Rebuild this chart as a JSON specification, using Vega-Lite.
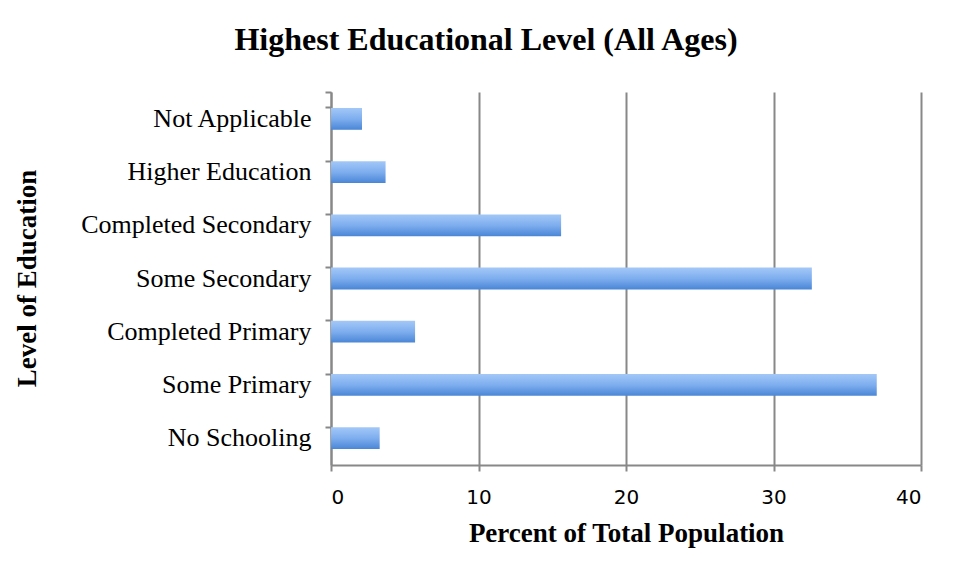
{
  "$schema": "https://vega.github.io/schema/vega-lite/v6.json",
  "width": 590,
  "height": 373,
  "autosize": {"type": "none"},
  "padding": {"left": 331, "top": 92, "right": 34, "bottom": 113},
  "background": "white",
  "title": {
    "text": "Highest Educational Level (All Ages)",
    "font": "Liberation Serif",
    "fontSize": 32,
    "fontWeight": "bold",
    "color": "black",
    "anchor": "middle",
    "frame": "group",
    "dx": -140,
    "offset": 22
  },
  "data": {
    "values": [
      {"level": "Not Applicable", "percent": 2.1},
      {"level": "Higher Education", "percent": 3.7},
      {"level": "Completed Secondary", "percent": 15.6},
      {"level": "Some Secondary", "percent": 32.6},
      {"level": "Completed Primary", "percent": 5.7},
      {"level": "Some Primary", "percent": 37.0},
      {"level": "No Schooling", "percent": 3.3}
    ]
  },
  "mark": {
    "type": "bar",
    "color": {
      "gradient": "linear",
      "x1": 0, "y1": 0, "x2": 0, "y2": 1,
      "stops": [
        {"offset": 0, "color": "#a3c8f7"},
        {"offset": 0.5, "color": "#7eaeee"},
        {"offset": 1, "color": "#4a86d6"}
      ]
    }
  },
  "encoding": {
    "y": {
      "field": "level",
      "type": "nominal",
      "sort": null,
      "scale": {"paddingInner": 0.59, "paddingOuter": 0.3},
      "axis": {
        "title": "Level of Education",
        "titleFont": "Liberation Serif",
        "titleFontSize": 27,
        "titleFontWeight": "bold",
        "titleColor": "black",
        "titleX": -304,
        "titleY": 186,
        "titleAngle": -90,
        "titleAlign": "center",
        "titleBaseline": "middle",
        "labelFont": "Liberation Serif",
        "labelFontSize": 26,
        "labelColor": "black",
        "labelPadding": 14,
        "labelLimit": 400,
        "tickSize": 6,
        "tickColor": "#888888",
        "tickWidth": 2,
        "bandPosition": 0,
        "tickExtra": true,
        "domainColor": "#888888",
        "domainWidth": 2,
        "grid": false
      }
    },
    "x": {
      "field": "percent",
      "type": "quantitative",
      "scale": {"domain": [0, 40], "nice": false},
      "axis": {
        "values": [0, 10, 20, 30, 40],
        "title": "Percent of Total Population",
        "titleFont": "Liberation Serif",
        "titleFontSize": 27,
        "titleFontWeight": "bold",
        "titleColor": "black",
        "titlePadding": 13,
        "labelFont": "DejaVu Sans",
        "labelFontSize": 20,
        "labelColor": "black",
        "labelPadding": 16,
        "tickSize": 6,
        "tickColor": "#888888",
        "tickWidth": 2,
        "domainColor": "#888888",
        "domainWidth": 2,
        "grid": true,
        "gridColor": "#888888",
        "gridWidth": 2,
        "gridOpacity": 1
      }
    }
  },
  "config": {
    "view": {"stroke": null}
  }
}
